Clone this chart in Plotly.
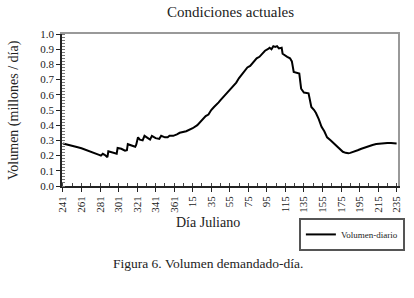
import plotly.graph_objects as go

# Julian day labels (season runs from day 241 of a leap year to day 235 of next year)
dias = [241, 245, 249, 253, 257, 261, 265, 269, 273, 277, 280, 282, 284, 286, 289,
        290, 294, 298, 299, 300, 304, 308, 310, 311, 315, 319, 320, 322, 324, 327,
        329, 332, 335, 337, 341, 345, 347, 351, 354, 356, 360, 364,
        1, 8, 15, 20, 25, 29, 32, 35, 38, 40, 43, 45, 50, 55, 60, 62, 65, 70, 74,
        77, 80, 84, 87, 90, 93, 96, 98, 100, 102, 104, 106, 108, 110, 111, 112, 114,
        117, 120, 122, 124, 127, 130, 132, 135, 140, 142, 143, 146, 148, 151, 154,
        157, 160, 164, 169, 173, 177, 180, 183, 185, 189, 193, 197, 201, 205, 209,
        213, 217, 221, 225, 229, 233, 235]
volumen = [0.280, 0.275, 0.268, 0.262, 0.255, 0.248, 0.240, 0.232, 0.224, 0.215, 0.205, 0.200, 0.212, 0.205, 0.190,
           0.228, 0.220, 0.210, 0.212, 0.250, 0.245, 0.232, 0.235, 0.275, 0.265, 0.258, 0.270, 0.320, 0.305, 0.300,
           0.330, 0.315, 0.305, 0.330, 0.315, 0.310, 0.330, 0.320, 0.320, 0.330, 0.330, 0.340,
           0.350, 0.360, 0.380, 0.400, 0.430, 0.460, 0.470, 0.500, 0.520, 0.530, 0.550, 0.565, 0.600, 0.630, 0.670, 0.680, 0.710, 0.750, 0.780,
           0.790, 0.810, 0.840, 0.850, 0.870, 0.890, 0.900, 0.910, 0.900, 0.920, 0.915, 0.920, 0.905, 0.910, 0.910, 0.870, 0.860,
           0.850, 0.840, 0.820, 0.750, 0.745, 0.740, 0.640, 0.615, 0.610, 0.550, 0.520, 0.500, 0.480, 0.440, 0.390,
           0.360, 0.320, 0.300, 0.270, 0.245, 0.225, 0.218, 0.215, 0.218, 0.225, 0.235, 0.245, 0.255, 0.263, 0.270,
           0.276, 0.280, 0.282, 0.283, 0.283, 0.282, 0.280]

etiquetas_x = [241, 261, 281, 301, 321, 341, 361, 15, 35, 55, 75, 95, 115, 135, 155, 175, 195, 215, 235]
etiquetas_y = [0.0, 0.1, 0.2, 0.3, 0.4, 0.5, 0.6, 0.7, 0.8, 0.9, 1.0]

def posicion(d):
    return d - 241 if d >= 241 else d + 125

xs = [posicion(d) for d in dias]
tick_pos = [posicion(d) for d in etiquetas_x]

FONT = "Liberation Serif"

fig = go.Figure()
fig.add_trace(go.Scatter(x=xs, y=volumen, mode="lines", name="Volumen-diario",
                         line=dict(color="black", width=2)))

fig.update_layout(
    width=414, height=298,
    margin=dict(l=62, r=9, t=34, b=112),
    paper_bgcolor="white", plot_bgcolor="white",
    font=dict(family=FONT, color="#222", size=11),
    showlegend=True,
    legend=dict(x=0.705, y=-0.21, xanchor="left", yanchor="top",
                bordercolor="#555", borderwidth=2, font=dict(size=9, family=FONT),
                itemwidth=30, tracegroupgap=0),
    xaxis=dict(range=[-1, 361.5], tickmode="array", tickvals=tick_pos,
               ticktext=[str(v) for v in etiquetas_x], tickangle=-90,
               showgrid=False, zeroline=False, showline=True, linecolor="#222", linewidth=1.5,
               ticks="outside", ticklen=4, tickcolor="#222",
               minor=dict(dtick=10, tick0=0, ticks="inside", ticklen=3, tickcolor="#444"),
               tickfont=dict(size=11)),
    xaxis2=dict(overlaying="x", side="top", range=[-1, 361.5], showline=True, linecolor="#999",
                linewidth=2, showticklabels=False, ticks="", showgrid=False, zeroline=False),
    yaxis=dict(range=[0, 1], tickmode="array", tickvals=etiquetas_y,
               ticktext=[f"{v:.1f}" for v in etiquetas_y],
               showgrid=False, zeroline=False, showline=True, linecolor="#222", linewidth=1.5,
               ticks="outside", ticklen=4, tickcolor="#222",
               minor=dict(dtick=0.02, tick0=0, ticks="inside", ticklen=3, tickcolor="#777"),
               tickfont=dict(size=11)),
    yaxis2=dict(overlaying="y", side="right", range=[0, 1], showline=True, linecolor="#999",
                linewidth=2, showticklabels=False, ticks="", showgrid=False, zeroline=False),
)

# invisible trace to activate top/right frame lines
fig.add_trace(go.Scatter(x=[xs[0]], y=[volumen[0]], xaxis="x2", yaxis="y2",
                         mode="markers", marker=dict(opacity=0), showlegend=False,
                         hoverinfo="skip"))

fig.add_annotation(text="Condiciones actuales", xref="paper", yref="paper",
                   x=0.5, y=1.145, xanchor="center", yanchor="middle",
                   showarrow=False, font=dict(size=15, family=FONT))
fig.add_annotation(text="Volumen (millones / día)", xref="paper", yref="paper",
                   x=-0.143, y=0.5, xanchor="center", yanchor="middle", textangle=-90,
                   showarrow=False, font=dict(size=14, family=FONT))
fig.add_annotation(text="Día Juliano", xref="paper", yref="paper",
                   x=0.435, y=-0.237, xanchor="center", yanchor="middle",
                   showarrow=False, font=dict(size=14, family=FONT))
fig.add_annotation(text="Figura 6. Volumen demandado-día.", xref="paper", yref="paper",
                   x=0.435, y=-0.513, xanchor="center", yanchor="middle",
                   showarrow=False, font=dict(size=13.5, family=FONT))

fig.write_html("out.html", config={"displayModeBar": False},
               post_script="document.body.style.margin='0';document.body.style.padding='0';")
